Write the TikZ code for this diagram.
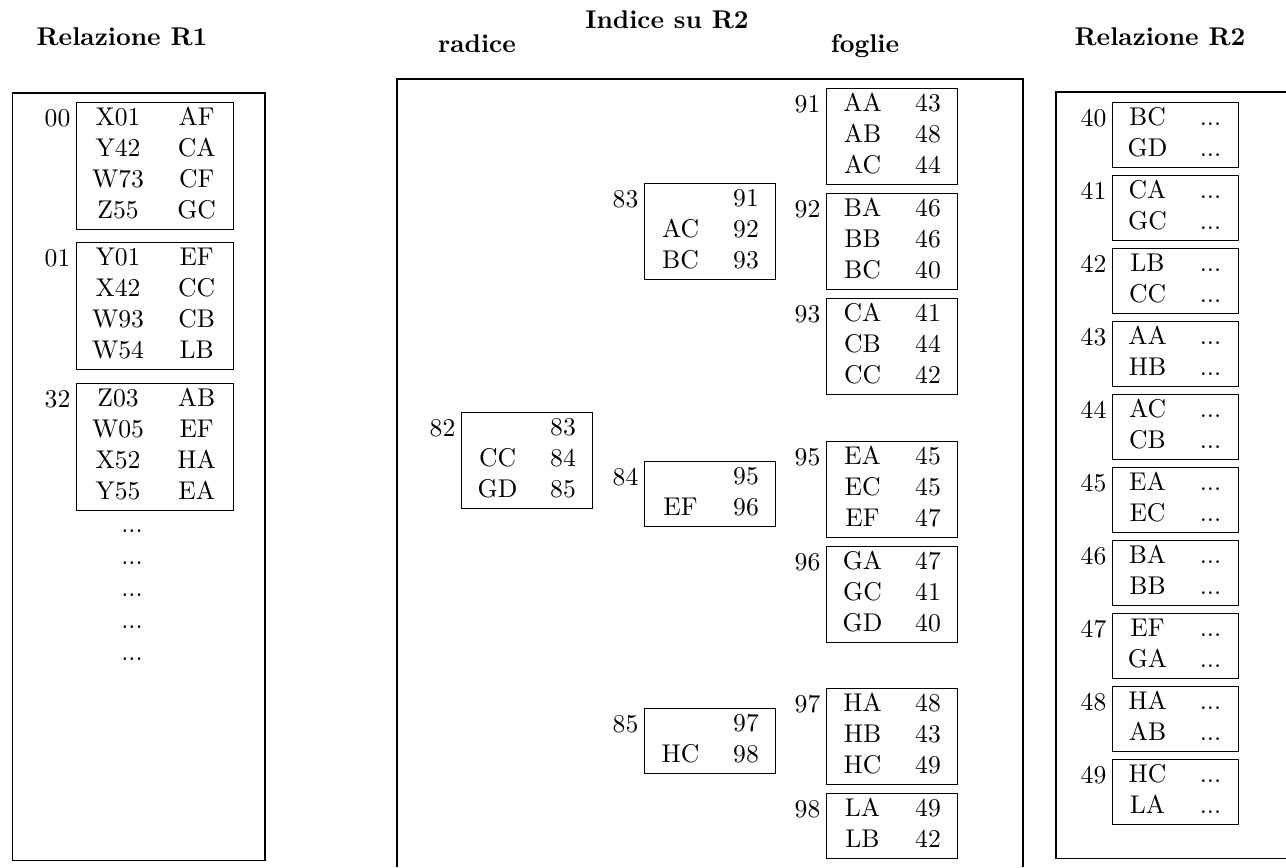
\documentclass[tikz,border=0pt]{standalone}
\usepackage{array}

\tikzset{
    pagina/.style={draw, anchor=north west, inner xsep=0pt, inner ysep=0.7pt},
    etich/.style={anchor=north east, inner xsep=2pt, inner ysep=2.66pt},
    titolo/.style={anchor=base, font=\bfseries},
}

% righe delle pagine: relazione R1, indice, relazione R2
\newcommand{\righeR}[1]{\begin{tabular}{@{}w{c}{32.4pt}@{}w{c}{28.9pt}@{}}#1\end{tabular}}
\newcommand{\righeI}[1]{\begin{tabular}{@{}w{c}{28.1pt}@{}w{c}{23pt}@{}}#1\end{tabular}}
\newcommand{\righeS}[1]{\begin{tabular}{@{}w{c}{27.3pt}@{}w{c}{21.8pt}@{}}#1\end{tabular}}

\begin{document}
\begin{tikzpicture}[x=0.39pt, y=-0.39pt]
    \useasboundingbox (0,0) rectangle (1286,867);

    % titoli
    \node[titolo] (tR1) at (122,45) {Relazione R1};
    \node[titolo] (tInd) at (667,28) {Indice su R2};
    \node[titolo] (tRad) at (477,52) {radice};
    \node[titolo] (tFog) at (865,52) {foglie};
    \node[titolo] (tR2) at (1160,45) {Relazione R2};

    % contenitori
    \draw (12.7,93) rectangle (265,860);
    \draw (397,867) -- (397,79) -- (1023,79) -- (1023,867);
    \draw (1286,92) -- (1056,92) -- (1056,858) -- (1286,858);

    % relazione R1
    \node[pagina, label={[etich, name=e00]north west:00}] (b00) at (76,102)
        {\righeR{X01 & AF\\ Y42 & CA\\ W73 & CF\\ Z55 & GC}};
    \node[pagina, label={[etich, name=e01]north west:01}] (b01) at (76,242)
        {\righeR{Y01 & EF\\ X42 & CC\\ W93 & CB\\ W54 & LB}};
    \node[pagina, label={[etich, name=e32]north west:32}] (b32) at (76,383)
        {\righeR{Z03 & AB\\ W05 & EF\\ X52 & HA\\ Y55 & EA}};

    \node[anchor=base] (d1) at (132,532) {...};
    \node[anchor=base] (d2) at (132,564) {...};
    \node[anchor=base] (d3) at (132,596) {...};
    \node[anchor=base] (d4) at (132,628) {...};
    \node[anchor=base] (d5) at (132,660) {...};

    % indice: radice e nodi intermedi
    \node[pagina, label={[etich, name=e82]north west:82}] (b82) at (461,412)
        {\righeI{ & 83\\ CC & 84\\ GD & 85}};
    \node[pagina, label={[etich, name=e83]north west:83}] (b83) at (644,183)
        {\righeI{ & 91\\ AC & 92\\ BC & 93}};
    \node[pagina, label={[etich, name=e84]north west:84}] (b84) at (644,461)
        {\righeI{ & 95\\ EF & 96}};
    \node[pagina, label={[etich, name=e85]north west:85}] (b85) at (644,708)
        {\righeI{ & 97\\ HC & 98}};

    % indice: foglie
    \node[pagina, label={[etich, name=e91]north west:91}] (b91) at (826,88)
        {\righeI{AA & 43\\ AB & 48\\ AC & 44}};
    \node[pagina, label={[etich, name=e92]north west:92}] (b92) at (826,193)
        {\righeI{BA & 46\\ BB & 46\\ BC & 40}};
    \node[pagina, label={[etich, name=e93]north west:93}] (b93) at (826,298)
        {\righeI{CA & 41\\ CB & 44\\ CC & 42}};
    \node[pagina, label={[etich, name=e95]north west:95}] (b95) at (826,441)
        {\righeI{EA & 45\\ EC & 45\\ EF & 47}};
    \node[pagina, label={[etich, name=e96]north west:96}] (b96) at (826,546)
        {\righeI{GA & 47\\ GC & 41\\ GD & 40}};
    \node[pagina, label={[etich, name=e97]north west:97}] (b97) at (826,688)
        {\righeI{HA & 48\\ HB & 43\\ HC & 49}};
    \node[pagina, label={[etich, name=e98]north west:98}] (b98) at (826,793)
        {\righeI{LA & 49\\ LB & 42}};

    % relazione R2
    \node[pagina, label={[etich, name=e40]north west:40}] (b40) at (1112,102)
        {\righeS{BC & ...\\ GD & ...}};
    \node[pagina, label={[etich, name=e41]north west:41}] (b41) at (1112,175)
        {\righeS{CA & ...\\ GC & ...}};
    \node[pagina, label={[etich, name=e42]north west:42}] (b42) at (1112,248)
        {\righeS{LB & ...\\ CC & ...}};
    \node[pagina, label={[etich, name=e43]north west:43}] (b43) at (1112,321)
        {\righeS{AA & ...\\ HB & ...}};
    \node[pagina, label={[etich, name=e44]north west:44}] (b44) at (1112,394)
        {\righeS{AC & ...\\ CB & ...}};
    \node[pagina, label={[etich, name=e45]north west:45}] (b45) at (1112,467)
        {\righeS{EA & ...\\ EC & ...}};
    \node[pagina, label={[etich, name=e46]north west:46}] (b46) at (1112,540)
        {\righeS{BA & ...\\ BB & ...}};
    \node[pagina, label={[etich, name=e47]north west:47}] (b47) at (1112,613)
        {\righeS{EF & ...\\ GA & ...}};
    \node[pagina, label={[etich, name=e48]north west:48}] (b48) at (1112,686)
        {\righeS{HA & ...\\ AB & ...}};
    \node[pagina, label={[etich, name=e49]north west:49}] (b49) at (1112,759)
        {\righeS{HC & ...\\ LA & ...}};

\end{tikzpicture}
\end{document}
